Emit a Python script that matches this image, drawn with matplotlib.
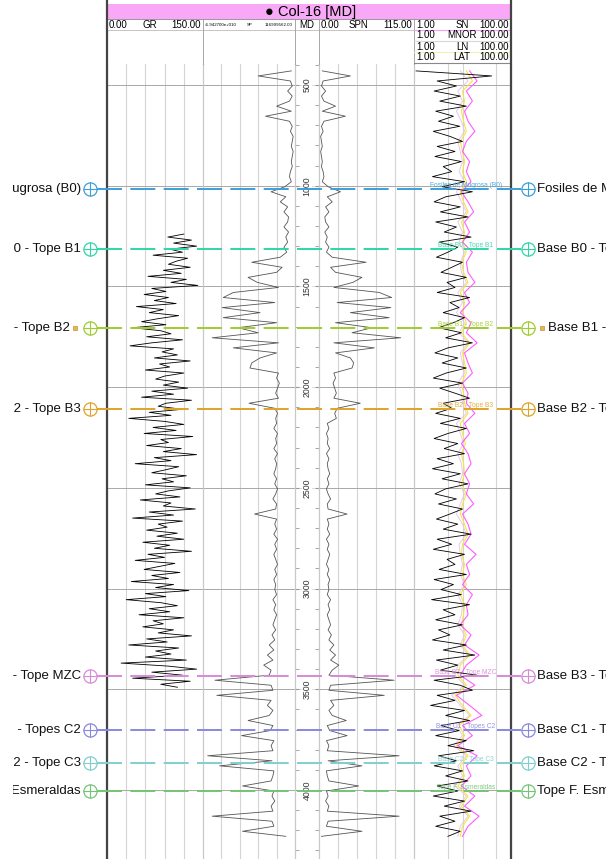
import numpy as np
import matplotlib.pyplot as plt
from matplotlib.ticker import NullLocator, MultipleLocator
from matplotlib.patches import Rectangle

plt.rcParams['font.family'] = ['Liberation Sans', 'DejaVu Sans']
plt.rcParams['lines.scale_dashes'] = False

GR_DEPTH = np.arange(1240, 3491, 15)
GR = [120, 95, 132, 104, 140, 98, 118, 72, 126, 108,
      96, 130, 88, 116, 64, 124, 100, 142, 70, 92,
      58, 96, 74, 108, 46, 88, 66, 112, 80, 54,
      92, 40, 84, 100, 62, 118, 70, 36, 104, 86,
      110, 74, 130, 82, 98, 60, 120, 90, 76, 112,
      88, 126, 70, 104, 54, 132, 92, 80, 118, 66,
      100, 34, 90, 120, 72, 108, 58, 134, 84, 96,
      62, 116, 88, 140, 74, 100, 44, 112, 92, 70,
      124, 86, 104, 60, 130, 96, 76, 114, 52, 100,
      88, 138, 66, 104, 40, 118, 80, 94, 62, 110,
      78, 120, 56, 98, 74, 132, 64, 90, 44, 106,
      82, 58, 114, 70, 96, 38, 104, 76, 128, 60,
      92, 30, 84, 110, 66, 98, 50, 120, 72, 88,
      56, 104, 80, 132, 62, 94, 34, 112, 76, 100,
      60, 124, 22, 96, 140, 70, 118, 40, 130, 84,
      110]

SP_DEPTH = np.arange(430, 4231, 25)
SP = [96, 60, 95, 97, 92, 97, 94, 80, 96, 68,
      94, 97, 95, 98, 97, 96, 98, 97, 96, 97,
      95, 94, 96, 89, 74, 90, 84, 92, 88, 93,
      92, 88, 93, 90, 92, 88, 91, 84, 53, 86,
      80, 49, 59, 82, 33, 22, 78, 21, 62, 22,
      80, 38, 60, 10, 82, 33, 80, 62, 53, 51,
      82, 80, 83, 81, 79, 82, 50, 78, 81, 79,
      80, 77, 81, 79, 80, 77, 81, 78, 80, 79,
      77, 80, 78, 81, 79, 76, 80, 79, 56, 80,
      78, 80, 77, 81, 78, 80, 77, 79, 81, 78,
      80, 77, 79, 78, 80, 76, 79, 77, 80, 78,
      76, 79, 75, 78, 72, 77, 70, 76, 66, 74,
      72, 13, 74, 76, 15, 74, 70, 76, 72, 49,
      76, 73, 42, 77, 74, 76, 5, 75, 18, 77,
      76, 74, 43, 77, 75, 78, 74, 76, 10, 75,
      77, 43, 90]
SPN = [4, 38, 5, 3, 8, 3, 6, 20, 4, 32,
       6, 3, 5, 2, 3, 4, 2, 3, 4, 3,
       5, 6, 4, 11, 26, 10, 16, 8, 12, 7,
       8, 12, 7, 10, 8, 12, 9, 16, 57, 14,
       20, 52, 41, 18, 73, 88, 22, 87, 38, 85,
       20, 64, 40, 99, 18, 67, 20, 38, 42, 40,
       18, 20, 17, 19, 21, 18, 50, 22, 19, 21,
       10, 12, 9, 11, 10, 13, 9, 12, 10, 11,
       13, 10, 12, 9, 11, 14, 10, 11, 34, 10,
       12, 10, 13, 9, 12, 10, 13, 11, 9, 12,
       10, 13, 11, 12, 10, 14, 11, 13, 10, 12,
       14, 11, 15, 12, 18, 13, 20, 14, 24, 16,
       12, 91, 14, 12, 79, 14, 18, 12, 16, 33,
       10, 13, 34, 9, 12, 10, 97, 11, 52, 9,
       10, 12, 48, 9, 11, 8, 12, 10, 97, 11,
       9, 52, 3]

LAT = [1.1, 40, 3.0, 7.5, 2.6, 9.0, 3.4, 12, 2.8, 6.5,
       3.2, 8.8, 2.5, 5.5, 10, 3.0, 7.0, 2.7, 9.5, 4.0,
       6.0, 2.4, 11, 3.8, 16, 4.5, 2.6, 9.0, 3.5, 13,
       2.8, 7.5, 4.2, 15, 3.3, 8.0, 5.0, 2.9, 10, 6.0,
       3.6, 12, 4.8, 7.0, 3.0, 14, 5.5, 8.5, 4.0, 11,
       6.5, 3.2, 9.5, 4.5, 16, 5.0, 2.7, 8.0, 3.8, 12,
       4.6, 2.5, 10, 3.4, 7.0, 14, 4.0, 6.0, 2.8, 9.0,
       3.5, 12, 5.0, 2.6, 8.0, 4.2, 11, 3.0, 6.5, 2.4,
       9.0, 3.8, 13, 4.5, 2.7, 7.5, 3.2, 10, 5.5, 2.9,
       8.0, 4.0, 15, 3.0, 6.0, 2.5, 11, 4.8, 7.0, 3.3,
       12, 2.6, 6.5, 3.6, 9.5, 2.3, 14, 4.0, 7.0, 2.8,
       10, 3.2, 5.5, 2.4, 12, 4.0, 18, 2.9, 8.0, 3.5,
       20, 2.6, 9.0, 16, 3.0, 7.0, 2.2, 11, 4.5, 14,
       3.6, 8.5, 2.8, 12, 5.0, 17, 3.2, 7.5, 2.6, 10,
       4.5, 13, 3.0, 8.0, 2.5, 11, 4.2, 15, 3.4, 7.0,
       2.8, 9.0, 5.0]

RES_DEPTH = np.arange(430, 4231, 50)
SN = [14, 20, 12, 16, 11, 13, 18, 12, 10, 14,
      12, 15, 9.5, 13, 17, 11, 14, 10, 16, 12,
      13, 18, 11, 14, 9.0, 15, 12, 20, 11, 13,
      16, 10, 13, 12, 18, 11, 14, 9.5, 13, 15,
      11, 14, 12, 17, 10, 13, 15, 11, 19, 12,
      14, 10, 16, 12, 13, 9.0, 15, 11, 22, 12,
      9.0, 18, 7.5, 14, 25, 10, 16, 8.0, 20, 12,
      15, 9.5, 18, 11, 22, 13, 10]
MNOR = [9, 13, 8, 10, 7.5, 9.5, 11, 8, 9, 10,
        8.5, 11, 7.5, 9.5, 12, 8, 10, 8.5, 11, 9,
        9.5, 12, 8, 10, 7.5, 11, 8.5, 13, 9, 10,
        11, 8, 9.5, 10, 12, 7.5, 9, 10.5, 8, 9.5,
        10, 8.5, 11, 9, 7.5, 10, 12, 8.5, 9, 10,
        9, 11, 8, 10, 9.5, 8, 11, 9, 13, 8,
        7, 11, 6, 9, 14, 7.5, 10, 6.5, 12, 8,
        10, 7, 12, 8.5, 13, 9, 8]
LN = [12, 16, 10, 11, 9.5, 10.5, 12, 9.0, 10, 11,
      10, 12, 9.0, 10.5, 13, 9.5, 11, 10, 12, 9.5,
      10.5, 13, 9.0, 11, 10, 12, 9.5, 14, 10, 11,
      12, 9.5, 10.5, 11, 13, 9.0, 10, 11.5, 9.5, 10.5,
      11, 9.5, 12, 10, 9.0, 11, 13, 10, 9.5, 11,
      10, 12, 9.0, 11, 10.5, 9.5, 12, 10, 14, 9.0,
      8.0, 12, 7.0, 10, 15, 8.5, 11, 7.5, 13, 9.0,
      11, 8.0, 13, 9.5, 14, 10, 9.0]

TOP_NAMES = ['Fosiles de Mugrosa (B0)', 'Base B0 - Tope B1', 'Base B1 - Tope B2',
             'Base B2 - Tope B3', 'Base B3 - Tope MZC', 'Base C1 - Topes C2',
             'Base C2 - Tope C3', 'Tope F. Esmeraldas']
TOP_DEPTHS = [1015, 1313, 1707, 2109, 3432, 3700, 3865, 4004]
TOP_COLORS = ['#3d9fd8', '#2fd6a5', '#9fcc2e', '#e0a328',
              '#d88ad8', '#8888e0', '#7fcfcf', '#74c474']
MD_LABELS = [500, 1000, 1500, 2000, 2500, 3000, 3500, 4000]

# ---- layout en pixeles ----
W, H = 606, 859
TOP_PX, BOT_PX = 64, 859
def px_to_depth(y):
    return 500 + (y - 85) * 3500 / 705
D_TOP, D_BOT = px_to_depth(TOP_PX), px_to_depth(BOT_PX)

fig = plt.figure(figsize=(W / 100, H / 100), dpi=100)

def track(x0, x1):
    ax = fig.add_axes([x0 / W, 1 - BOT_PX / H, (x1 - x0) / W, (BOT_PX - TOP_PX) / H])
    ax.set_facecolor('none')
    ax.set_ylim(D_BOT, D_TOP)
    ax.set_yticks(MD_LABELS)
    ax.yaxis.grid(True, color='#a8a8a8', lw=0.7)
    ax.xaxis.grid(True, color='#d4d4d4', lw=0.8)
    for s in ['top', 'bottom']:
        ax.spines[s].set_visible(False)
    for s in ['left', 'right']:
        ax.spines[s].set_color('#c8c8c8')
        ax.spines[s].set_linewidth(0.8)
    ax.tick_params(which='both', left=False, bottom=False, labelleft=False, labelbottom=False)
    return ax

ax_gr = track(107, 203)
ax_gr.set_xlim(0, 150)
ax_gr.set_xticks([30, 60, 90, 120])
ax_gr.plot(GR, GR_DEPTH, color='black', lw=0.6)

ax_sp = track(203, 295)
ax_sp.set_xlim(0, 100)
ax_sp.set_xticks([20, 40, 60, 80])
ax_sp.plot(SP, SP_DEPTH, color='#555555', lw=0.6)

ax_md = track(295, 319)
ax_md.set_xlim(0, 1)
ax_md.set_xticks([])
ax_md.yaxis.grid(True, color='#dddddd', lw=0.7)
ax_md.yaxis.set_minor_locator(MultipleLocator(100))
ax_md.tick_params(which='both', left=True, right=True, direction='in', length=3, color='#999999')
for d in MD_LABELS:
    ax_md.text(0.5, d, str(d), rotation=90, ha='center', va='center', fontsize=6.3,
               color='#333333', bbox=dict(fc='white', ec='none', pad=0.5))

ax_spn = track(319, 414)
ax_spn.set_xlim(0, 115)
ax_spn.set_xticks([23, 46, 69, 92])
ax_spn.plot(SPN, SP_DEPTH, color='#555555', lw=0.6)

ax_res = track(414, 511)
ax_res.set_xscale('log')
ax_res.set_xlim(1, 100)
ax_res.set_xticks([5, 10, 50])
ax_res.xaxis.set_minor_locator(NullLocator())
ax_res.plot(MNOR, RES_DEPTH, color='#e6c8f0', lw=0.7)
ax_res.plot(LN, RES_DEPTH, color='#f5e640', lw=0.8)
ax_res.plot(SN, RES_DEPTH, color='#ff5cff', lw=0.8)
ax_res.plot(LAT, SP_DEPTH, color='black', lw=0.6)

# ---- encabezado y marco ----
hdr = fig.add_axes([0, 0, 1, 1], zorder=5)
hdr.set_xlim(0, W)
hdr.set_ylim(H, 0)
hdr.axis('off')
hdr.add_patch(Rectangle((107, 4), 404, 15, fc='#f8a8f6', ec='none'))
hdr.text(311, 12, '● Col-16 [MD]', ha='center', va='center', fontsize=10.5)
hdr.plot([107, 511], [19, 19], color='#888888', lw=0.6)
hdr.plot([107, 414], [30, 30], color='#bbbbbb', lw=0.6)
for x in [203, 295, 319, 414]:
    hdr.plot([x, x], [19, TOP_PX], color='#999999', lw=0.6)
fs = 7
hdr.text(109, 25, '0.00', ha='left', va='center', fontsize=fs)
hdr.text(150, 25, 'GR', ha='center', va='center', fontsize=fs)
hdr.text(201, 25, '150.00', ha='right', va='center', fontsize=fs)
hdr.text(205, 25, '-6.942700e+010', ha='left', va='center', fontsize=3.2)
hdr.text(250, 25, 'SP', ha='center', va='center', fontsize=3.2)
hdr.text(293, 25, '116999562.00', ha='right', va='center', fontsize=3.2)
hdr.text(307, 25, 'MD', ha='center', va='center', fontsize=fs)
hdr.text(321, 25, '0.00', ha='left', va='center', fontsize=fs)
hdr.text(358, 25, 'SPN', ha='center', va='center', fontsize=fs)
hdr.text(412, 25, '115.00', ha='right', va='center', fontsize=fs)
res_rows = [('SN', '#f7a0f7'), ('MNOR', '#d8d8d8'), ('LN', '#f5efb0'), ('LAT', '#888888')]
for i, (name, uc) in enumerate(res_rows):
    yc = 24.5 + 11 * i
    hdr.text(416, yc, '1.00', ha='left', va='center', fontsize=fs)
    hdr.text(462, yc, name, ha='center', va='center', fontsize=fs)
    hdr.text(509, yc, '100.00', ha='right', va='center', fontsize=fs)
    hdr.plot([414, 511], [yc + 5, yc + 5], color=uc, lw=0.8)
for x in [107, 511]:
    hdr.plot([x, x], [0, H], color='#444444', lw=1.6)

# ---- topes formacionales ----
ax_top = fig.add_axes([0, 1 - BOT_PX / H, 1, (BOT_PX - TOP_PX) / H], zorder=6)
ax_top.set_facecolor('none')
ax_top.set_xlim(0, W)
ax_top.set_ylim(D_BOT, D_TOP)
ax_top.axis('off')
# nombres de la izquierda recortados en su caja (x 13..100 px)
ax_lab = fig.add_axes([13 / W, 1 - BOT_PX / H, 87 / W, (BOT_PX - TOP_PX) / H], zorder=7)
ax_lab.set_facecolor('none')
ax_lab.set_xlim(13, 100)
ax_lab.set_ylim(D_BOT, D_TOP)
ax_lab.axis('off')
for name, d, c in zip(TOP_NAMES, TOP_DEPTHS, TOP_COLORS):
    ax_top.plot([97, 521], [d, d], color=c, lw=1.4, dashes=(18, 6))
    ax_top.plot([90, 528], [d, d], ls='none', marker='o', ms=9.5, mfc='white', mec=c, mew=0.9)
    ax_top.plot([90, 528], [d, d], ls='none', marker='+', ms=9.5, mec=c, mew=0.8)
    ax_top.text(466, d, name, ha='center', va='bottom', fontsize=4.8, color=c, alpha=0.9)
    if name == 'Base B1 - Tope B2':
        ax_top.plot([75, 542], [d, d], ls='none', marker='s', ms=3, mfc='#e8b84a', mec='#b08020', mew=0.4)
        xl, xr = 70, 548
    else:
        xl, xr = 81, 537
    ax_lab.text(xl, d, name, ha='right', va='center', fontsize=9.5, color='#111111', clip_on=True)
    ax_top.text(xr, d, name, ha='left', va='center', fontsize=9.5, color='#111111')

fig.savefig('out.png', dpi=100)
